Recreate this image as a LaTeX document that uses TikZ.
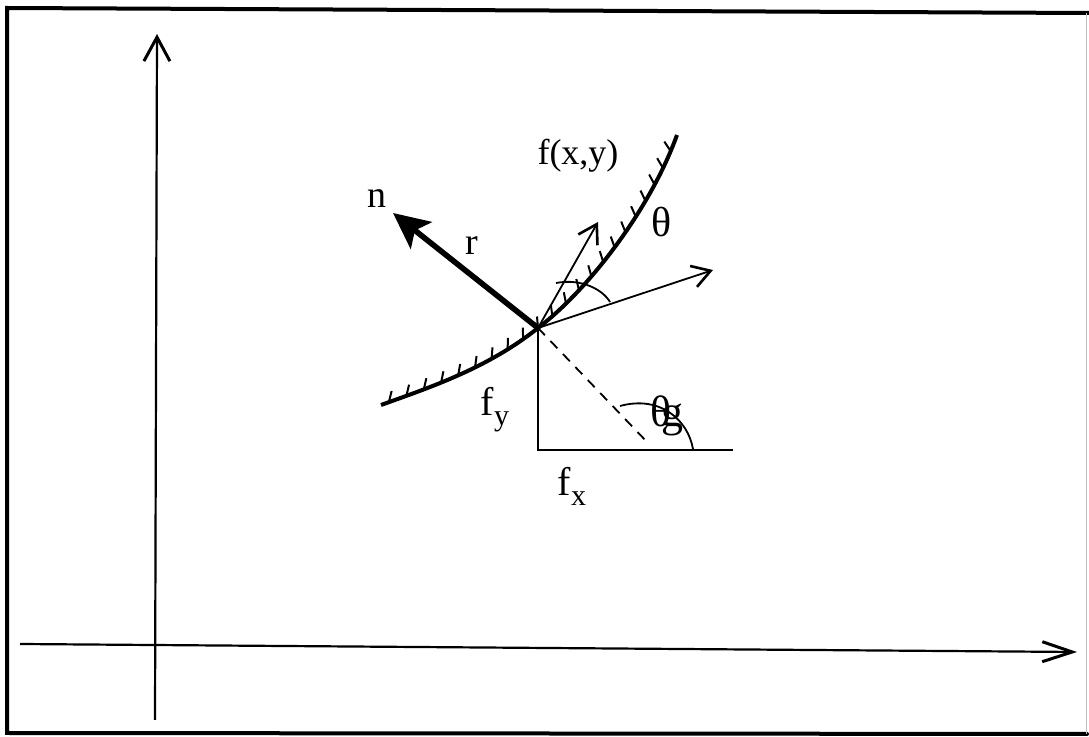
\documentclass[tikz,border=0pt]{standalone}
\usepackage{fontspec}
\setmainfont{Liberation Serif}
\usetikzlibrary{arrows.meta,decorations.markings}
\begin{document}
\begin{tikzpicture}[x=0.5pt,y=-0.5pt,
  lbl/.style={inner sep=0pt,font=\fontsize{18}{21}\selectfont},
  biglbl/.style={inner sep=0pt,font=\fontsize{19}{22}\selectfont},
  frameline/.style={line width=2pt,line cap=round},
  axisline/.style={line width=1.1pt,-{Straight Barb[length=12pt,width=13pt,line width=1.5pt]}},
  thinvec/.style={line width=0.9pt,-{Straight Barb[length=9pt,width=11pt,line width=1.3pt]}},
  normalvec/.style={line width=2.8pt,-{Stealth[length=18pt,width=17pt,inset=4pt]}},
  surface/.style={line width=2pt,postaction={decorate},
    decoration={markings,
      mark=between positions 0.02 and 0.98 step 9.3pt with {\draw[line width=1pt] (0,0) -- (3.2pt,4.8pt);}}},
  thinline/.style={line width=0.9pt},
  dashline/.style={line width=0.9pt,dash pattern=on 5pt off 4pt}]
\useasboundingbox (0,0) rectangle (1089,737);
% frame
\coordinate (TL) at (7,8);
\coordinate (TR) at (1089,13);
\coordinate (BL) at (7,733);
\coordinate (BR) at (1087,734);
\draw[frameline] (TR) -- (TL) -- (BL) -- (BR);
\draw[line width=0.4pt,black!25] (1086,13) -- (1086,734);
% axes
\coordinate (ybot) at (155,720);
\coordinate (ytop) at (157,34);
\coordinate (xleft) at (20,644);
\coordinate (xright) at (1077,652);
\draw[axisline] (ybot) -- (ytop);
\draw[axisline,-{Straight Barb[length=15pt,width=10pt,line width=1.5pt]}] (xleft) -- (xright);
% surface curve
\coordinate (P) at (538,328);
\coordinate (s0) at (381,405);
\coordinate (s1) at (677,135);
\draw[surface] (s0) .. controls (431,387) and (488,368) .. (P)
  .. controls (588,290) and (650,210) .. (s1);
% vectors
\coordinate (ntip) at (393,213);
\coordinate (v1) at (598,222);
\coordinate (v2) at (713,270);
\draw[normalvec] (P) -- (ntip);
\draw[thinvec] (P) -- (v1);
\draw[thinvec] (P) -- (v2);
% theta arc
\coordinate (a1) at (556,283);
\coordinate (a2) at (610,302);
\draw[thinline] (a1) .. controls (582,278) and (603,290) .. (a2);
% gradient triangle
\coordinate (C) at (538,450);
\coordinate (H) at (733,450);
\coordinate (D) at (648,443);
\draw[thinline] (P) -- (C) -- (H);
\draw[dashline] (P) -- (D);
\coordinate (g1) at (620,406);
\coordinate (g2) at (693,449);
\draw[thinline] (g1) .. controls (660,395) and (688,420) .. (g2);
% labels
\node[lbl] (fxy) at (578,156) {f(x,y)};
\node[biglbl] (n) at (377,199) {n};
\node[biglbl] (r) at (472,246) {r};
\node[font=\fontsize{21}{24}\selectfont,inner sep=0pt] (th) at (662,222) {θ};
\node[font=\fontsize{22}{25}\selectfont,inner sep=0pt] (thg) at (667,416) {θ\kern-5pt g};
\node[inner sep=0pt,font=\fontsize{20}{23}\selectfont] (fy) at (495,410) {f\raisebox{-5pt}{\fontsize{15}{17}\selectfont y}};
\node[inner sep=0pt,font=\fontsize{20}{23}\selectfont] (fx) at (572,486) {f\raisebox{-5pt}{\fontsize{15}{17}\selectfont x}};
\end{tikzpicture}
\end{document}
